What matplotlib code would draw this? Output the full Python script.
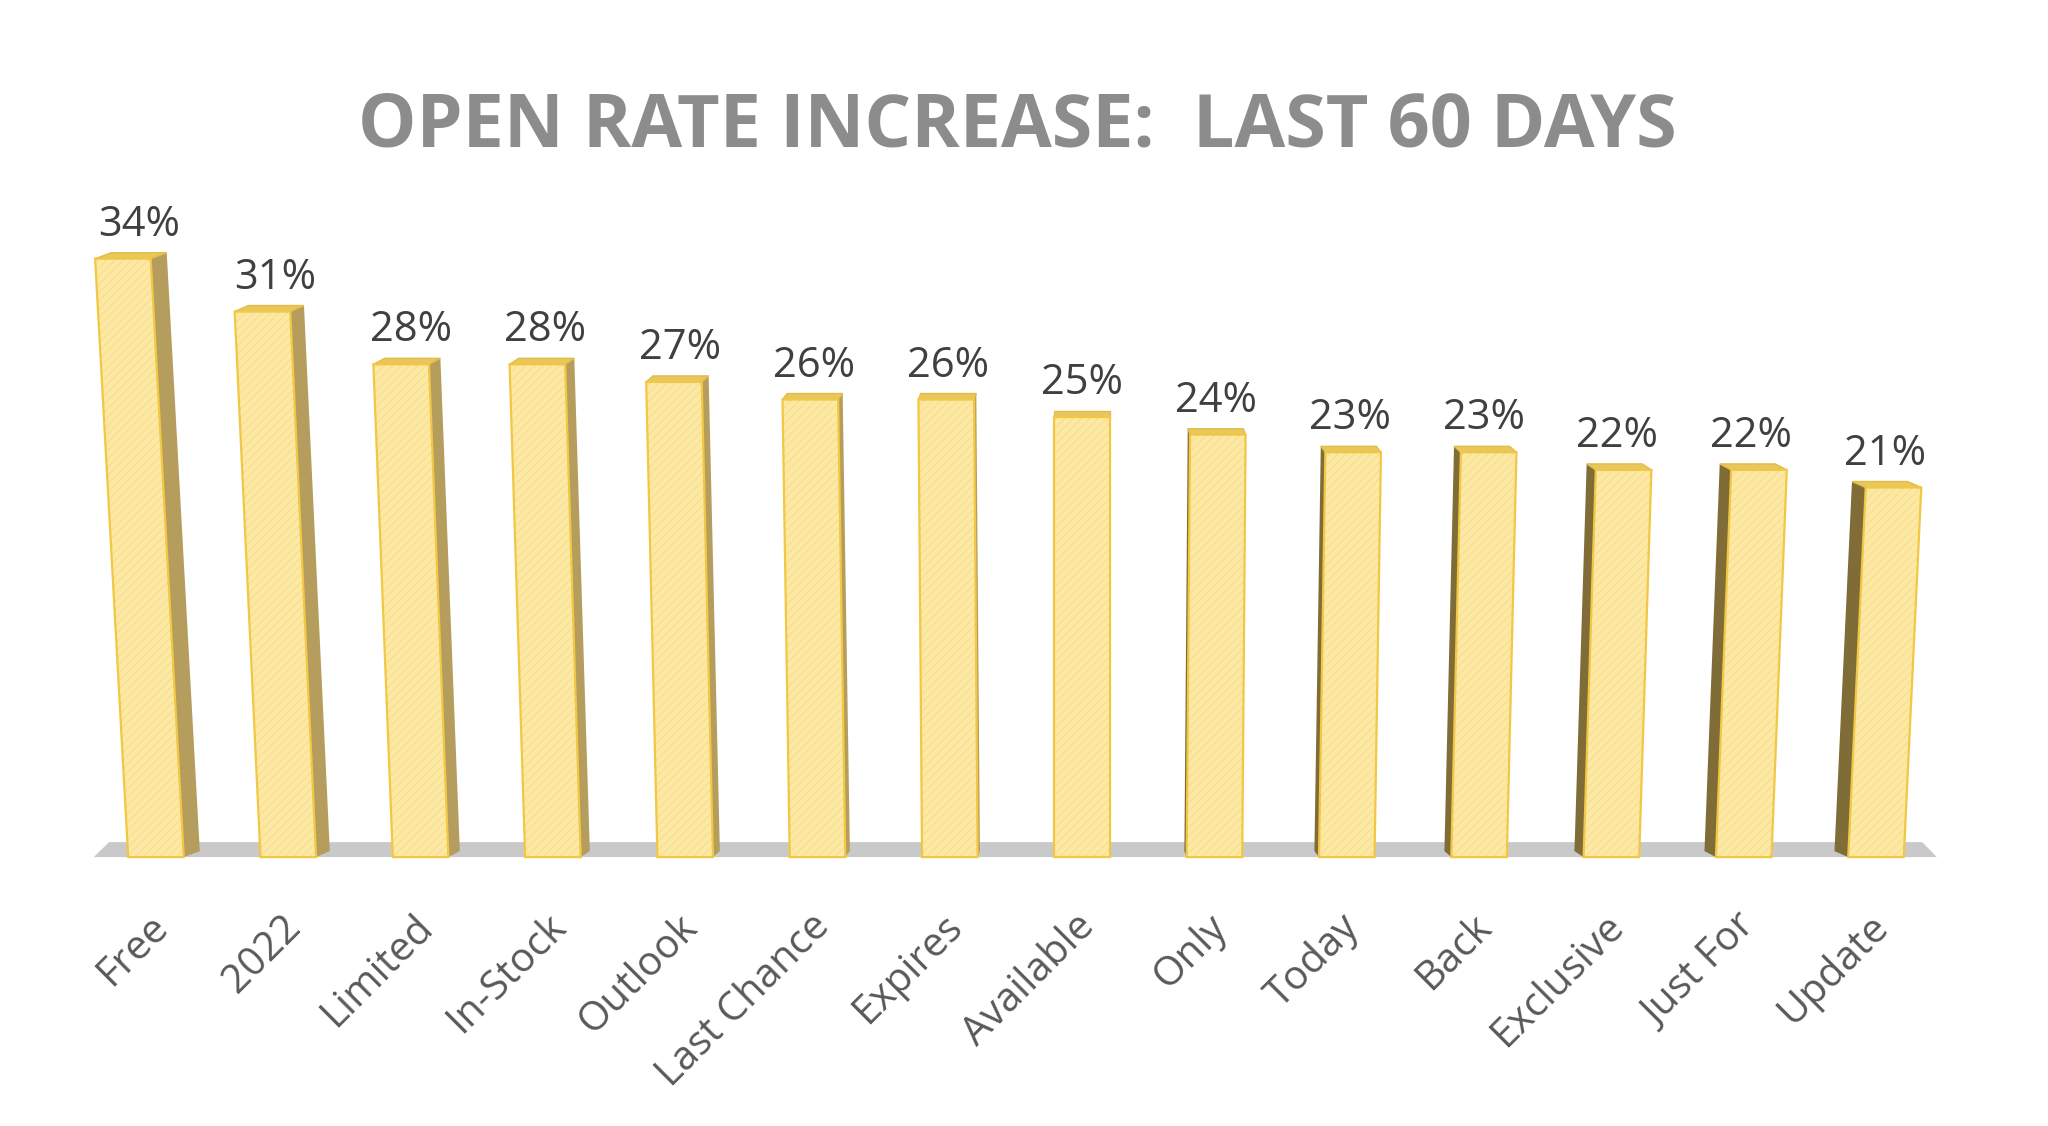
import numpy as np
import matplotlib.pyplot as plt

categories = ["Free", "2022", "Limited", "In-Stock", "Outlook", "Last Chance", "Expires",
              "Available", "Only", "Today", "Back", "Exclusive", "Just For", "Update"]
open_rate = [34, 31, 28, 28, 27, 26, 26, 25, 24, 23, 23, 22, 22, 21]
value_labels = [f"{v}%" for v in open_rate]
title = "OPEN RATE INCREASE:  LAST 60 DAYS"

plt.rcParams['font.family'] = ['Open Sans', 'DejaVu Sans']
plt.rcParams['hatch.linewidth'] = 0.7

fig = plt.figure(figsize=(20.48, 11.26), dpi=100)
ax = fig.add_axes([0, 0, 1, 1])
ax.set_xlim(-1.179, 14.30)
ax.set_ylim(-15.28, 48.7)
ax.axis('off')

x = np.arange(len(categories))
vals = np.array(open_rate, dtype=float)

half = 0.21       # half width of the front face
eye = 7.0         # column seen straight on (perspective centre)
lean = 0.00105    # how much the columns lean away from the centre
side_k = 0.0173   # side face width per column of distance
depth = 0.34      # visible depth of the top face

# grey floor strip
ax.fill([-0.47, 13.46, 13.35, -0.355], [0, 0, 0.85, 0.85], color='#c9c9c9', lw=0, zorder=1)

for xi, v, lab, name in zip(x, vals, value_labels, categories):
    d = xi - eye
    off = lean * v * d
    sw = side_k * abs(d)
    x0, x1 = xi - half, xi + half
    t0, t1 = x0 + off, x1 + off
    if d < 0:
        side_x = [x1, x1 + sw, t1 + sw, t1]
        side_col = '#b59d5e'
        cdx = sw
    else:
        side_x = [x0, x0 - sw, t0 - sw, t0]
        side_col = '#7f6c36'
        cdx = -sw
    ax.fill(side_x, [0, depth, v + depth, v], color=side_col, lw=0, zorder=2)
    ax.fill([t0, t1, t1 + cdx, t0 + cdx], [v, v, v + depth, v + depth],
            color='#e8c75c', ec='#e3bd48', lw=1, zorder=3)
    fx, fy = [x0, x1, t1, t0], [0, 0, v, v]
    ax.fill(fx, fy, color='#fde9a4', lw=0, zorder=4)
    ax.fill(fx, fy, fill=False, hatch='////', ec='#f5dc8e', lw=0, zorder=5)
    ax.fill(fx, fy, fill=False, ec='#f1c744', lw=1.6, zorder=6)

    ax.text(xi + off / 2, v + 1.3, lab, ha='center', va='baseline',
            fontsize=30, color='#404040', zorder=7)
    ax.text(xi + 0.05, -64 / 17.6, name, rotation=45, ha='right', va='center',
            rotation_mode='anchor', fontsize=29, color='#595959')

fig.text(0.4965, 1 - 128 / 1126, title, ha='center', va='center',
         fontsize=53, fontweight='bold', color='#8c8c8c')

fig.savefig('out.png', dpi=100)
